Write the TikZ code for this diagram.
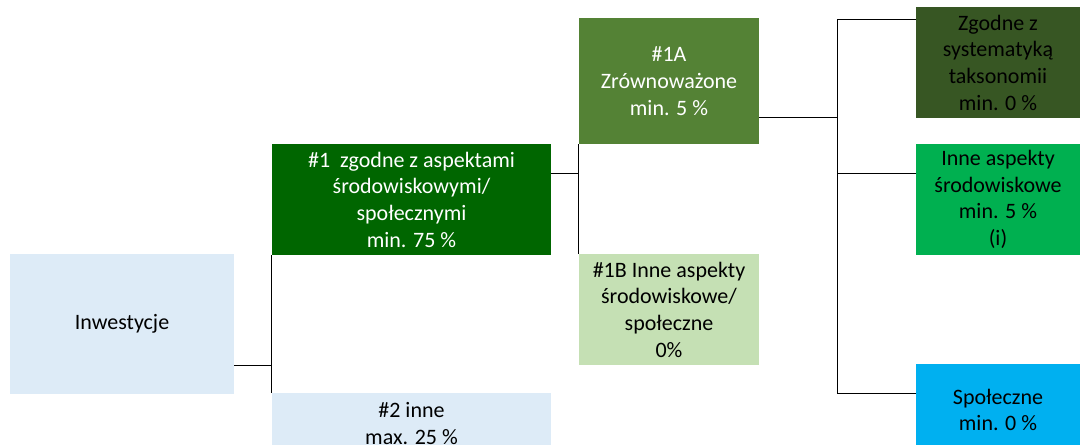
\documentclass[tikz,border=0pt]{standalone}
\usepackage{fontspec}
\setmainfont{Carlito}
\definecolor{lightblue}{HTML}{DDEBF7}
\definecolor{darkgreen}{HTML}{006600}
\definecolor{midgreen}{HTML}{548235}
\definecolor{palegreen}{HTML}{C5E0B4}
\definecolor{olivegreen}{HTML}{375623}
\definecolor{brightgreen}{HTML}{00B050}
\definecolor{skyblue}{HTML}{00B0F0}
\tikzset{
    box/.style={inner sep=0pt, align=center, font=\fontsize{16.5}{20}\selectfont},
    link/.style={line width=0.75pt}
}
\begin{document}
\begin{tikzpicture}[x=0.75pt, y=-0.75pt]
        \useasboundingbox (0, 0) rectangle (1080, 444);
        \clip (0, 0) rectangle (1080, 444);

        \node[box, fill=lightblue, minimum width=224*0.75pt, minimum height=140*0.75pt] (inw) at (122, 324) {Inwestycje};

        \node[box, fill=darkgreen, text=white, minimum width=279*0.75pt, minimum height=111*0.75pt] (one) at (411.5, 199.5)
            {\#1\ \ zgodne z aspektami\\środowiskowymi/\\społecznymi\\min. 75 \%};
        \node[box, fill=lightblue, minimum width=279*0.75pt, minimum height=61*0.75pt] (two) at (411.5, 423.5)
            {\#2 inne\\max. 25 \%};

        \node[box, fill=midgreen, text=white, minimum width=180*0.75pt, minimum height=126*0.75pt] (oneA) at (669, 81)
            {\#1A\\Zrównoważone\\min. 5 \%};
        \node[box, fill=palegreen, minimum width=180*0.75pt, minimum height=111*0.75pt] (oneB) at (669, 309.5)
            {\#1B Inne aspekty\\środowiskowe/\\społeczne\\0\%};

        \node[box, fill=olivegreen, minimum width=164*0.75pt, minimum height=111*0.75pt] (tax) at (998, 62.5)
            {Zgodne z\\systematyką\\taksonomii\\min. 0 \%};
        \node[box, fill=brightgreen, minimum width=164*0.75pt, minimum height=111*0.75pt] (env) at (998, 199.5)
            {Inne aspekty\\środowiskowe\\min. 5 \%\\(i)};
        \node[box, fill=skyblue, minimum width=164*0.75pt, minimum height=92*0.75pt] (soc) at (998, 410)
            {Społeczne\\min. 0 \%};

        % first split
        \coordinate (J1) at (272, 365);
        \draw[link] (inw.east |- J1) -- (J1);
        \draw[link] (one.south west) -- (two.north west);

        % second split
        \coordinate (J2) at (579, 173);
        \draw[link] (one.east |- J2) -- (J2);
        \draw[link] (oneA.south west) -- (oneB.north west);

        % third split
        \coordinate (J3) at (837, 117);
        \coordinate (T1) at (837, 19);
        \coordinate (T2) at (837, 173);
        \coordinate (T3) at (837, 393);
        \draw[link] (oneA.east |- J3) -- (J3);
        \draw[link] (T1) -- (T3);
        \draw[link] (T1) -- (tax.west |- T1);
        \draw[link] (T2) -- (env.west |- T2);
        \draw[link] (T3) -- (soc.west |- T3);
    \end{tikzpicture}
\end{document}
